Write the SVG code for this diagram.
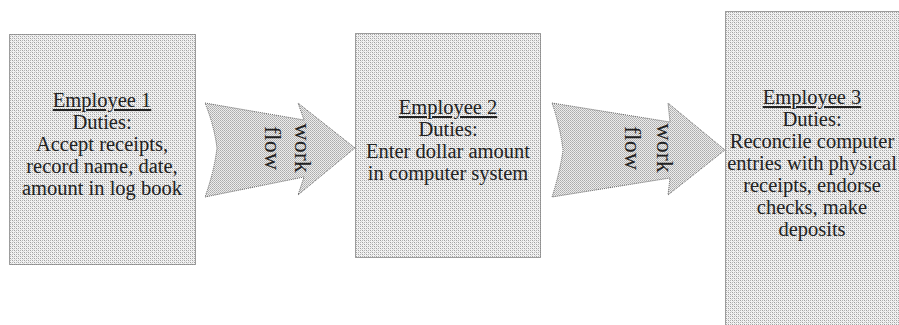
<svg xmlns="http://www.w3.org/2000/svg" width="899" height="325" viewBox="0 0 899 325">
  <defs>
    <!-- halftone-style fills -->
    <pattern id="boxDots" width="4" height="4" patternUnits="userSpaceOnUse">
      <rect width="4" height="4" fill="#f2f2f2"/>
      <rect x="0" y="0" width="1" height="1" fill="#a0a0a0"/>
      <rect x="2" y="0" width="1" height="1" fill="#b4b4b4"/>
      <rect x="0" y="2" width="1" height="1" fill="#b4b4b4"/>
      <rect x="2" y="2" width="1" height="1" fill="#a0a0a0"/>
      <rect x="1" y="1" width="1" height="1" fill="#d8d8d8"/>
      <rect x="3" y="3" width="1" height="1" fill="#d8d8d8"/>
    </pattern>
    <pattern id="arrowDots" width="2" height="2" patternUnits="userSpaceOnUse">
      <rect width="2" height="2" fill="#ececec"/>
      <rect x="0" y="0" width="1" height="1" fill="#ababab"/>
      <rect x="1" y="1" width="1" height="1" fill="#bababa"/>
    </pattern>
  </defs>
  <style>
    .box { fill: url(#boxDots); stroke: #444; stroke-width: 1; stroke-dasharray: 1 1; }
    .arrow { fill: url(#arrowDots); stroke: #666; stroke-width: 1; stroke-dasharray: 1 1; }
    .t { font-family: "Liberation Serif", "Times New Roman", serif; font-size: 20.5px; fill: #222; text-anchor: middle; }
    .head { text-decoration: underline; }
    .flow { font-family: "Liberation Serif", "Times New Roman", serif; font-size: 24px; fill: #222; text-anchor: middle; }
  </style>

  <rect width="899" height="325" fill="#ffffff"/>

  <!-- work flow arrows -->
  <g id="connectors">
    <g id="flow1">
      <path class="arrow" d="M205,103 L304,120 L298,103 L355,148 L298,195 L304,177 L205,197 Q214,172 217,148 Q214,125 205,103 Z"/>
      <text class="flow" transform="translate(295,148) rotate(90)">work</text>
      <text class="flow" transform="translate(265,148) rotate(90)">flow</text>
    </g>
    <g id="flow2">
      <path class="arrow" d="M552,103 L670,122 L668,103 L725,150 L668,195 L670,178 L552,197 Q560,172 563,150 Q560,126 552,103 Z"/>
      <text class="flow" transform="translate(657,148) rotate(90)">work</text>
      <text class="flow" transform="translate(625,148) rotate(90)">flow</text>
    </g>
  </g>

  <g id="employee1">
    <rect class="box" x="9.5" y="34.5" width="186" height="230"/>
    <text class="t head" x="102" y="107">Employee 1</text>
    <text class="t" x="102" y="129">Duties:</text>
    <text class="t" x="102" y="151">Accept receipts,</text>
    <text class="t" x="102" y="173">record name, date,</text>
    <text class="t" x="102" y="195">amount in log book</text>
  </g>

  <g id="employee2">
    <rect class="box" x="355.5" y="33.5" width="185" height="224"/>
    <text class="t head" x="448" y="114">Employee 2</text>
    <text class="t" x="448" y="136">Duties:</text>
    <text class="t" x="448" y="158">Enter dollar amount</text>
    <text class="t" x="448" y="180">in computer system</text>
  </g>

  <g id="employee3">
    <rect class="box" x="725.5" y="11.5" width="180" height="320"/>
    <text class="t head" x="812" y="104">Employee 3</text>
    <text class="t" x="812" y="126">Duties:</text>
    <text class="t" x="812" y="148">Reconcile computer</text>
    <text class="t" x="812" y="170">entries with physical</text>
    <text class="t" x="812" y="192">receipts, endorse</text>
    <text class="t" x="812" y="214">checks, make</text>
    <text class="t" x="812" y="236">deposits</text>
  </g>
</svg>
